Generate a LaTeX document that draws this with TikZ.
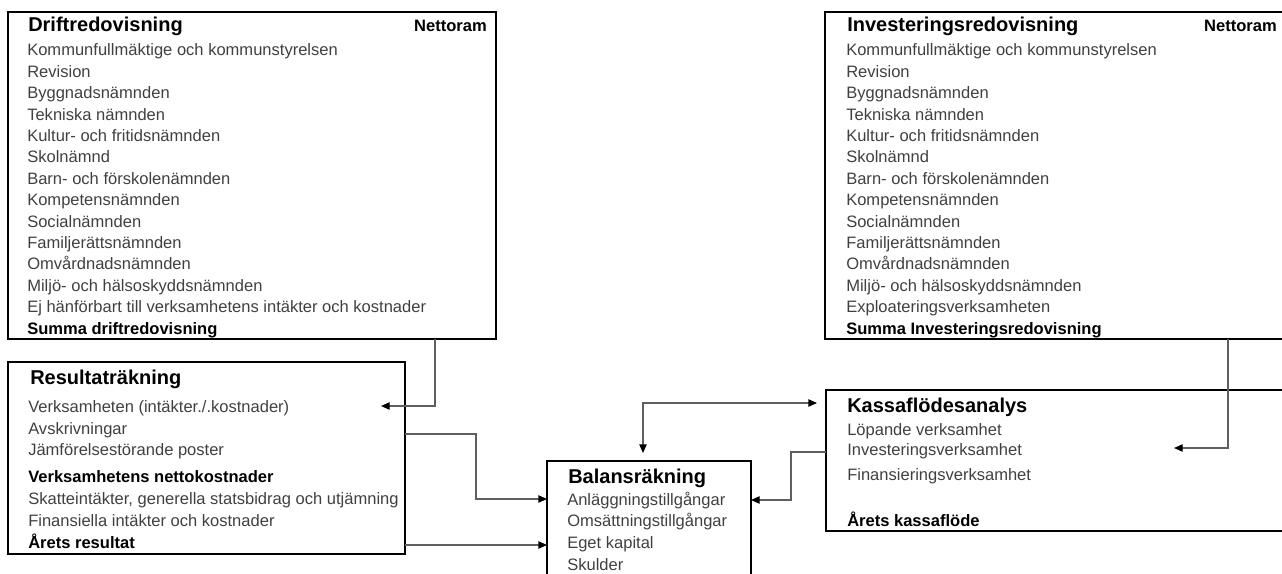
\documentclass[tikz,border=0pt]{standalone}
\usepackage{fontspec}
\setmainfont{Liberation Sans}
\usepackage{xcolor}
\usetikzlibrary{arrows.meta,positioning,calc,fit}
\definecolor{itemgray}{RGB}{64,64,64}
\definecolor{linkgray}{RGB}{95,95,95}

\begin{document}
\begin{tikzpicture}[
    x=0.75pt, y=-0.75pt,
    panel/.style={draw,line width=1.6pt,inner sep=0pt,outer sep=0pt},
    head/.style={anchor=base west,inner sep=0pt,font=\fontsize{15}{18}\selectfont\bfseries},
    netto/.style={anchor=base east,inner sep=0pt,font=\fontsize{12.4}{15}\selectfont\bfseries},
    list/.style={anchor=base west,inner sep=0pt,align=left,text=itemgray},
    link/.style={draw=linkgray,line width=1pt},
    >={Triangle[length=6.5pt,width=5.5pt,color=black]}
]
\useasboundingbox (0,0) rectangle (1282,574);
\clip (0,0) rectangle (1282,574);

% boxes
\node[panel,fit={(8,12) (496,339)}] (drift) {};
\node[panel,fit={(825,12) (1295,339)}] (invest) {};
\node[panel,fit={(8,362) (405,554)}] (resultat) {};
\node[panel,fit={(547,461) (751,590)}] (balans) {};
\node[panel,fit={(826,390) (1295,531)}] (kassa) {};

% Driftredovisning (lists sit on the baseline of their last line)
\node[head] (driftT) at (28,32) {Driftredovisning};
\node[netto] (driftN) at (487,32) {Nettoram};
\node[list,font=\fontsize{12.4}{16.04}\selectfont] (driftL) at (27,334) {Kommunfullmäktige och kommunstyrelsen\\Revision\\Byggnadsnämnden\\Tekniska nämnden\\Kultur- och fritidsnämnden\\Skolnämnd\\Barn- och förskolenämnden\\Kompetensnämnden\\Socialnämnden\\Familjerättsnämnden\\Omvårdnadsnämnden\\Miljö- och hälsoskyddsnämnden\\Ej hänförbart till verksamhetens intäkter och kostnader\\\textbf{\color{black}Summa driftredovisning}};

% Investeringsredovisning
\node[head] (investT) at (847,32) {Investeringsredovisning};
\node[netto] (investN) at (1277,32) {Nettoram};
\node[list,font=\fontsize{12.4}{16.04}\selectfont] (investL) at (846,334) {Kommunfullmäktige och kommunstyrelsen\\Revision\\Byggnadsnämnden\\Tekniska nämnden\\Kultur- och fritidsnämnden\\Skolnämnd\\Barn- och förskolenämnden\\Kompetensnämnden\\Socialnämnden\\Familjerättsnämnden\\Omvårdnadsnämnden\\Miljö- och hälsoskyddsnämnden\\Exploateringsverksamheten\\\textbf{\color{black}Summa Investeringsredovisning}};

% Resultaträkning
\node[head] (resultatT) at (30,384) {Resultaträkning};
\node[list,font=\fontsize{12.4}{16.35}\selectfont] (resultatL) at (28,548) {Verksamheten (intäkter./.kostnader)\\Avskrivningar\\Jämförelsestörande poster\\[3.75pt]\textbf{\color{black}Verksamhetens nettokostnader}\\Skatteintäkter, generella statsbidrag och utjämning\\Finansiella intäkter och kostnader\\\textbf{\color{black}Årets resultat}};

% Balansräkning
\node[head] (balansT) at (568,483) {Balansräkning};
\node[list,font=\fontsize{12.4}{16.25}\selectfont] (balansL) at (567,570) {Anläggningstillgångar\\Omsättningstillgångar\\Eget kapital\\Skulder};

% Kassaflödesanalys
\node[head] (kassaT) at (847,412) {Kassaflödesanalys};
\node[list,font=\fontsize{12.4}{15.4}\selectfont] (kassaL) at (847,526) {Löpande verksamhet\\Investeringsverksamhet\\[3.4pt]Finansieringsverksamhet\\[18.6pt]\textbf{\color{black}Årets kassaflöde}};

% connectors
\coordinate (verktip) at (381,406);
\coordinate (invtip) at (1174,448);
\coordinate (arets) at ($(resultat.north east)+(0,183)$);
\draw[link,->] ($(drift.south west)+(427,0)$) |- (verktip);
\draw[link,->] ($(resultat.north east)+(0,72)$) -- ++(71,0) |- ($(balans.north west)+(0,38)$);
\draw[link,->] (arets) -- (arets -| balans.west);
\draw[link,<->] ($(balans.north west)+(96,-8)$) |- ($(kassa.north west)+(-9,13)$);
\draw[link,->] ($(kassa.north west)+(0,62)$) -- ++(-35,0) |- ($(balans.north east)+(0,39)$);
\draw[link,->] ($(invest.south west)+(403,0)$) |- (invtip);
\end{tikzpicture}
\end{document}
